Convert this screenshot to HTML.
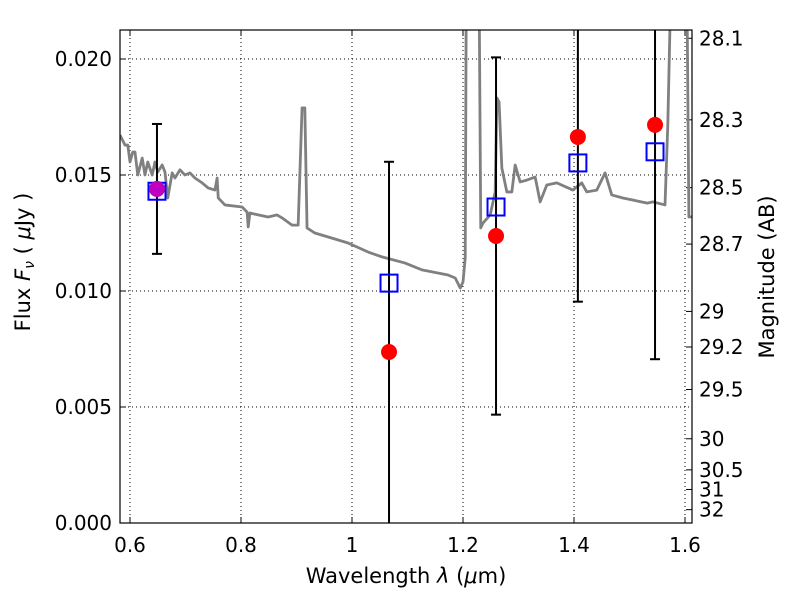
<!DOCTYPE html>
<html><head><meta charset="utf-8"><style>
body{margin:0;background:#fff}
svg text{font-family:"DejaVu Sans","Liberation Sans",sans-serif;fill:#000}
</style></head><body>
<svg id="c" width="800" height="600" xmlns="http://www.w3.org/2000/svg">
<defs><clipPath id="clip"><rect x="120" y="30" width="572" height="493"/></clipPath></defs>
</svg>
<script>
const specWave=[0.582,0.591,0.596,0.600,0.605,0.609,0.614,0.622,0.627,0.632,0.640,0.645,0.650,0.658,0.663,0.668,0.676,0.681,0.690,0.699,0.708,0.717,0.730,0.741,0.753,0.757,0.759,0.771,0.802,0.811,0.813,0.816,0.831,0.849,0.865,0.874,0.892,0.903,0.910,0.915,0.919,0.933,0.964,0.993,1.029,1.054,1.095,1.126,1.173,1.186,1.195,1.200,1.204,1.207,1.216,1.227,1.232,1.236,1.249,1.258,1.261,1.265,1.270,1.279,1.288,1.294,1.303,1.315,1.330,1.339,1.351,1.369,1.398,1.414,1.423,1.441,1.456,1.468,1.488,1.532,1.542,1.564,1.569,1.573,1.582,1.598,1.604,1.607,1.613];
const specFlux=[0.01672,0.01629,0.01629,0.01556,0.01599,0.01599,0.0150,0.01573,0.0150,0.01556,0.0150,0.01556,0.01513,0.01543,0.01513,0.01401,0.01509,0.01487,0.01522,0.0150,0.01509,0.01487,0.01466,0.01444,0.01435,0.01487,0.01401,0.01371,0.01362,0.0134,0.01276,0.01336,0.01328,0.01319,0.01328,0.01315,0.01284,0.01284,0.01789,0.01789,0.01272,0.0125,0.01228,0.01207,0.01168,0.01147,0.01121,0.01091,0.01069,0.01056,0.01013,0.01039,0.01142,0.030,0.040,0.030,0.01272,0.01293,0.01328,0.01427,0.01832,0.01815,0.0153,0.01427,0.01427,0.01543,0.0147,0.01478,0.01491,0.01384,0.01457,0.01466,0.01435,0.01466,0.01427,0.01435,0.01509,0.01414,0.01401,0.01379,0.01384,0.01371,0.01716,0.0215,0.030,0.030,0.0215,0.01319,0.0132];
const obsWave=[0.6486,1.0667,1.2595,1.407,1.546];
const obsFlux=[0.0144,0.00737,0.01237,0.01664,0.01716];
const obsErr=[0.0028,0.0082,0.0077,0.0071,0.0101];
const modelFlux=[0.0143,0.01034,0.01362,0.01552,0.0160];
const xTicks=[0.6,0.8,1.0,1.2,1.4,1.6];
const xTickLabels=["0.6","0.8","1","1.2","1.4","1.6"];
const yTicks=[0,0.005,0.010,0.015,0.020];
const yTickLabels=["0.000","0.005","0.010","0.015","0.020"];
const magTicks=[28.1,28.3,28.5,28.7,29,29.2,29.5,30,30.5,31,32];
const magLabels=["28.1","28.3","28.5","28.7","29","29.2","29.5","30","30.5","31","32"];

const L=120,R=692,T=30,B=523;
const X=v=>130+(v-0.6)*555;
const Y=v=>523-v*23200;
const M=m=>Y(Math.pow(10,(23.9-m)/2.5));
const svg=document.getElementById('c');
const NS="http://www.w3.org/2000/svg";
function mk(t,a,p){const e=document.createElementNS(NS,t);for(const k in a)e.setAttribute(k,a[k]);(p||svg).appendChild(e);return e;}

const grid=mk('g',{});


xTicks.forEach((v,i)=>{
  mk('line',{x1:X(v),x2:X(v),y1:T,y2:B,stroke:'#000','stroke-width':1,'stroke-dasharray':'1,3'},grid);
  mk('line',{x1:X(v),x2:X(v),y1:B,y2:B-6,stroke:'#000'},grid);
  mk('line',{x1:X(v),x2:X(v),y1:T,y2:T+6,stroke:'#000'},grid);
  const t=mk('text',{x:X(v),y:552,'font-size':20,'text-anchor':'middle'});
  t.textContent=xTickLabels[i];
  
  
});
yTicks.forEach((v,i)=>{
  if(v>0) mk('line',{x1:L,x2:R,y1:Y(v),y2:Y(v),stroke:'#000','stroke-width':1,'stroke-dasharray':'1,3'},grid);
  mk('line',{x1:L,x2:L+6,y1:Y(v),y2:Y(v),stroke:'#000'},grid);
  const t=mk('text',{x:112,y:Y(v)+7,'font-size':20,'text-anchor':'end'});
  t.textContent=yTickLabels[i];
  
  
});
magTicks.forEach((m,i)=>{
  mk('line',{x1:R,x2:R-6,y1:M(m),y2:M(m),stroke:'#000'},grid);
  const t=mk('text',{x:699,y:M(m)+7,'font-size':20});
  t.textContent=magLabels[i];
  
  
});

const plot=mk('g',{'clip-path':'url(#clip)'});


const sp=mk('polyline',{points:specWave.map((w,i)=>X(w)+','+Y(specFlux[i])).join(' '),fill:'none',stroke:'#808080','stroke-width':2.8,'stroke-linejoin':'round'},plot);



obsWave.forEach((w,i)=>{
  const x=X(w),y1=Y(obsFlux[i]+obsErr[i]),y2=Y(obsFlux[i]-obsErr[i]);
  const g=mk('g',{},plot);
  
  
  mk('line',{x1:x,x2:x,y1:y1,y2:y2,stroke:'#000','stroke-width':2},g);
  mk('line',{x1:x-5,x2:x+5,y1:y1,y2:y1,stroke:'#000','stroke-width':2},g);
  mk('line',{x1:x-5,x2:x+5,y1:y2,y2:y2,stroke:'#000','stroke-width':2},g);
});
obsWave.forEach((w,i)=>{
  const s=mk('rect',{x:X(w)-8.5,y:Y(modelFlux[i])-8.5,width:17,height:17,fill:'none',stroke:'#0000ff','stroke-width':2},plot);
  
  
});
obsWave.forEach((w,i)=>{
  const c=mk('circle',{cx:X(w),cy:Y(obsFlux[i]),r:8,fill:i===0?'#bf00bf':'#ff0000'},plot);
  
  
});

const fr=mk('rect',{x:L,y:T,width:R-L,height:B-T,fill:'none',stroke:'#000','stroke-width':1.2});



const xl=mk('text',{x:406,y:583,'font-size':21,'text-anchor':'middle'});
xl.innerHTML='Wavelength  <tspan font-style="italic">λ</tspan> (<tspan font-style="italic">μ</tspan>m)';


const yl=mk('text',{x:0,y:0,'font-size':21,'text-anchor':'middle',transform:'translate(30,262) rotate(-90)'});
yl.innerHTML='Flux  <tspan font-style="italic">F</tspan><tspan font-style="italic" font-size="14" dy="4">ν</tspan><tspan dy="-4">  ( </tspan><tspan font-style="italic">μ</tspan>Jy )';


const rl=mk('text',{x:0,y:0,'font-size':21,'text-anchor':'middle',transform:'translate(774,277) rotate(-90)'});
rl.textContent='Magnitude (AB)';


</script>
</body></html>
